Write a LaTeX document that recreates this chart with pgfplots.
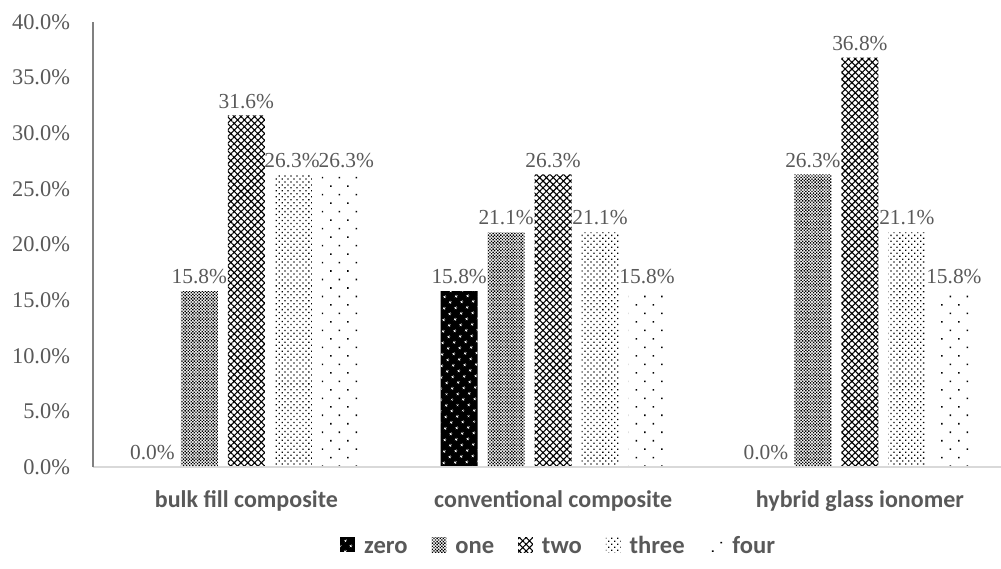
\documentclass[border=0pt]{standalone}
\usepackage{fontspec}
\setmainfont{Liberation Serif}
\newfontfamily\calibri{Carlito}
\usepackage{pgfplots}
\pgfplotsset{compat=1.18}
\usetikzlibrary{patterns.meta}
\definecolor{txt}{HTML}{595959}
\definecolor{yline}{HTML}{808080}
\definecolor{xline}{HTML}{D9D9D9}
\tikzset{
 pzero/.style={fill=black, postaction={pattern={Dots[angle=45,distance=4pt,radius=0.7pt]}, pattern color=white}},
 pone/.style={pattern={Dots[angle=45,distance=1.1pt,radius=0.5pt]}, pattern color=black},
 ptwo/.style={pattern={Hatch[angle=45,distance=2.4pt,line width=0.55pt]}, pattern color=black},
 pthree/.style={pattern={Dots[angle=45,distance=2.1pt,radius=0.45pt]}, pattern color=black},
 pfour/.style={pattern={Dots[angle=45,distance=6pt,radius=0.55pt]}, pattern color=black},
}
\pgfplotsset{
 mylegend/.style={legend image code/.code={\path[##1,draw=none] (0pt,-3.7pt) rectangle (7.4pt,3.7pt);}},
}
\pgfplotstableread{
x zero one two three four szero sone stwo sthree sfour
0 0    15.8 31.6 26.3  26.3 0 0 0 -0.7 3
1 15.8 21.1 26.3 21.1  15.8 0 0 0 0 0
2 0    26.3 36.8 21.1  15.8 0 0 0 0 0
}\data
\begin{document}
\begin{tikzpicture}
\begin{axis}[
  name=ax,
  scale only axis,
  width=454pt, height=222.5pt,
  ybar, bar width=0.1206,
  xmin=-0.5, xmax=2.46,
  ymin=0, ymax=40,
  ytick={0,5,...,40},
  yticklabel={\pgfmathprintnumber[fixed,fixed zerofill,precision=1]{\tick}\%},
  /pgf/number format/assume math mode=true,
  xtick={0,1,2},
  xticklabels={bulk fill composite, conventional composite, hybrid glass ionomer},
  x tick label style={font=\calibri\bfseries\fontsize{12}{14}\selectfont, text=txt, yshift=-8.5pt},
  y tick label style={font=\fontsize{11.2}{13}\selectfont, text=txt, xshift=-8pt},
  major tick length=0pt,
  axis on top,
  axis x line*=bottom, axis y line*=left,
  x axis line style={-, draw=xline, line width=0.8pt},
  y axis line style={-, draw=yline, line width=0.8pt},
  clip=false,
  point meta=y,
  nodes near coords={\pgfmathprintnumber[fixed,fixed zerofill,precision=1]{\pgfplotspointmeta}\%},
  nodes near coords style={font=\fontsize{10.7}{13}\selectfont, text=txt, xshift=\sh pt},
  legend style={at={(0.514,-0.175)}, anchor=center, draw=none, fill=none,
    legend columns=5, font=\calibri\bfseries\fontsize{12.3}{14}\selectfont, text=txt,
    /tikz/every odd column/.append style={column sep=2.5pt},
    /tikz/every even column/.append style={column sep=10pt},
    nodes={text height=8.6pt, text depth=0pt}},
  legend cell align=left,
]
\addplot[draw=none, pzero, bar shift=-0.3064, mylegend, visualization depends on={\thisrow{szero}\as\sh}] table[x=x,y=zero] {\data};
\addplot[draw=none, pone, bar shift=-0.1532, mylegend, visualization depends on={\thisrow{sone}\as\sh}] table[x=x,y=one] {\data};
\addplot[draw=none, ptwo, bar shift=0, mylegend, visualization depends on={\thisrow{stwo}\as\sh}] table[x=x,y=two] {\data};
\addplot[draw=none, pthree, bar shift=0.1532, mylegend, visualization depends on={\thisrow{sthree}\as\sh}] table[x=x,y=three] {\data};
\addplot[draw=none, pfour, bar shift=0.3064, mylegend, visualization depends on={\thisrow{sfour}\as\sh}] table[x=x,y=four] {\data};
\legend{zero, one, two, three, four}
\end{axis}
\pgfresetboundingbox
\useasboundingbox ([shift={(-46.5pt,-50.5pt)}]ax.south west) rectangle ([shift={(0pt,11pt)}]ax.north east);
\end{tikzpicture}
\end{document}
